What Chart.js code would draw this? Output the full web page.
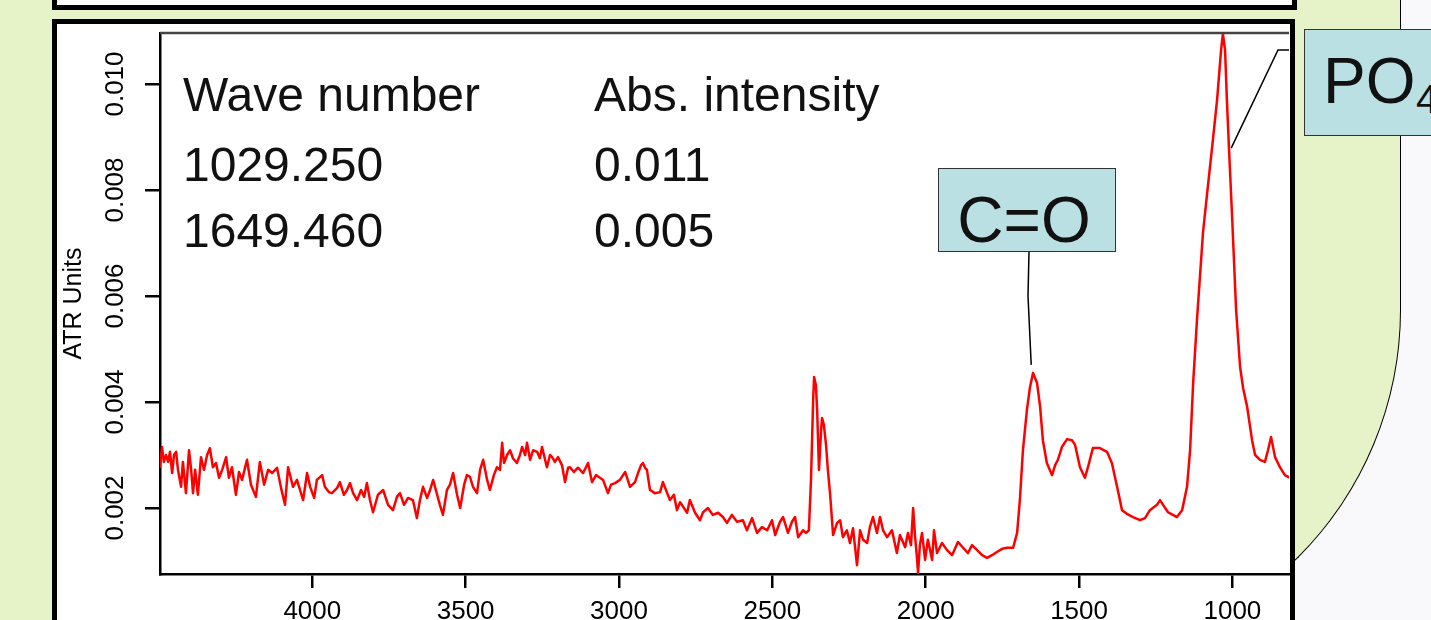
<!DOCTYPE html>
<html>
<head>
<meta charset="utf-8">
<script src="https://cdn.jsdelivr.net/npm/chart.js@4/dist/chart.umd.min.js"></script>
<style>
    body { margin: 0; width: 1431px; height: 620px; overflow: hidden; position: relative; background: #f9f9fb; font-family: "Liberation Sans", Arial, sans-serif; }
    #green { position: absolute; left: 0; top: -10px; width: 1401px; height: 670px; box-sizing: border-box; background: #e6f3c8; border-right: 1.5px solid #000; border-bottom: 1.5px solid #000; border-bottom-right-radius: 350px; }
    #topBox { position: absolute; left: 52px; top: -40px; width: 1245px; height: 50px; box-sizing: border-box; border: 5px solid #000; background: #fff; }
    #chartBox { position: absolute; left: 52px; top: 19px; width: 1243px; height: 640px; box-sizing: border-box; border: 5px solid #000; background: #fff; }
    #spectrum { position: absolute; left: 0; top: 0; }
    .txt { position: absolute; line-height: 1; white-space: nowrap; color: #111; }
    .tag { position: absolute; box-sizing: border-box; background: #bbe0e3; border: 1.5px solid #333; }
</style>
</head>
<body>
<div id="green"></div>
<div id="topBox"></div>
<div id="chartBox"></div>
<canvas id="spectrum" width="1431" height="620"></canvas>

<div class="txt" style="left:183px; top:71px; font-size:48px;">Wave number</div>
<div class="txt" style="left:183px; top:141px; font-size:48px;">1029.250</div>
<div class="txt" style="left:183px; top:207px; font-size:48px;">1649.460</div>
<div class="txt" style="left:594px; top:71px; font-size:48px;">Abs. intensity</div>
<div class="txt" style="left:594px; top:141px; font-size:48px;">0.011</div>
<div class="txt" style="left:594px; top:207px; font-size:48px;">0.005</div>

<div class="tag" style="left:938px; top:168px; width:178px; height:84px;"></div>
<div class="txt" style="left:935px; top:188px; width:178px; text-align:center; font-size:64px;">C=O</div>

<div class="tag" style="left:1304px; top:29px; width:160px; height:107px;"></div>
<div class="txt" style="left:1323px; top:49px; font-size:64px;">PO</div>
<div class="txt" style="left:1416px; top:79px; font-size:40px;">4</div>

<script>
// ATR spectrum (wave number in cm-1, absorbance in ATR units)
const waveNumber = [
    4497, 4490, 4484, 4477, 4470, 4464, 4457, 4451, 4444, 4438,
    4428, 4422, 4412, 4402, 4395, 4389, 4382, 4373, 4363, 4353,
    4343, 4334, 4324, 4314, 4304, 4294, 4281, 4272, 4262, 4249,
    4239, 4229, 4213, 4200, 4184, 4171, 4157, 4144, 4131, 4115,
    4102, 4089, 4079, 4063, 4050, 4040, 4030, 4017, 4007, 3994,
    3985, 3968, 3959, 3946, 3936, 3919, 3910, 3897, 3887, 3877,
    3867, 3854, 3841, 3831, 3822, 3812, 3802, 3786, 3769, 3753,
    3737, 3724, 3714, 3701, 3688, 3672, 3659, 3649, 3639, 3626,
    3616, 3606, 3593, 3584, 3574, 3561, 3551, 3541, 3528, 3518,
    3505, 3496, 3486, 3476, 3463, 3453, 3443, 3430, 3421, 3408,
    3398, 3388, 3381, 3375, 3365, 3355, 3346, 3333, 3323, 3316,
    3306, 3300, 3290, 3280, 3267, 3258, 3251, 3241, 3235, 3225,
    3218, 3209, 3199, 3186, 3176, 3166, 3160, 3147, 3134, 3117,
    3101, 3088, 3075, 3062, 3052, 3036, 3026, 3013, 2997, 2980,
    2964, 2948, 2938, 2928, 2922, 2915, 2909, 2899, 2883, 2866,
    2857, 2843, 2834, 2821, 2811, 2801, 2795, 2778, 2769, 2752,
    2736, 2726, 2710, 2694, 2677, 2661, 2648, 2632, 2615, 2596,
    2583, 2566, 2550, 2534, 2517, 2501, 2491, 2475, 2465, 2449,
    2436, 2426, 2416, 2400, 2390, 2381, 2374, 2367, 2364, 2358,
    2354, 2348, 2341, 2338, 2332, 2325, 2319, 2312, 2302, 2289,
    2279, 2270, 2257, 2247, 2237, 2224, 2214, 2204, 2191, 2182,
    2172, 2159, 2149, 2139, 2126, 2110, 2094, 2084, 2067, 2058,
    2048, 2041, 2035, 2028, 2025, 2019, 2012, 2002, 1993, 1979,
    1973, 1963, 1947, 1931, 1914, 1895, 1878, 1862, 1849, 1833,
    1816, 1800, 1784, 1768, 1751, 1735, 1715, 1702, 1693, 1683,
    1670, 1660, 1650, 1637, 1627, 1618, 1605, 1588, 1578, 1569,
    1556, 1539, 1523, 1513, 1497, 1481, 1471, 1455, 1432, 1409,
    1393, 1376, 1360, 1344, 1324, 1301, 1285, 1269, 1246, 1236,
    1226, 1210, 1194, 1181, 1164, 1148, 1138, 1128, 1115, 1096,
    1083, 1067, 1050, 1037, 1031, 1024, 1018, 1011, 1001, 988,
    975, 965, 952, 936, 926, 910, 894, 884, 874, 861,
    845, 829, 812
];

const atrUnits = [
    0.00276, 0.00315, 0.00287, 0.00300, 0.00287, 0.00306, 0.00266, 0.00300, 0.00306, 0.00272,
    0.00240, 0.00287, 0.00228, 0.00309, 0.00272, 0.00228, 0.00272, 0.00225, 0.00296, 0.00272,
    0.00300, 0.00313, 0.00277, 0.00285, 0.00257, 0.00272, 0.00296, 0.00257, 0.00277, 0.00225,
    0.00268, 0.00253, 0.00291, 0.00244, 0.00221, 0.00287, 0.00244, 0.00272, 0.00266, 0.00276,
    0.00238, 0.00206, 0.00277, 0.00240, 0.00253, 0.00234, 0.00215, 0.00266, 0.00240, 0.00219,
    0.00253, 0.00262, 0.00240, 0.00230, 0.00228, 0.00238, 0.00249, 0.00225, 0.00234, 0.00247,
    0.00228, 0.00215, 0.00234, 0.00221, 0.00247, 0.00215, 0.00192, 0.00225, 0.00234, 0.00206,
    0.00196, 0.00221, 0.00228, 0.00206, 0.00219, 0.00215, 0.00181, 0.00215, 0.00240, 0.00219,
    0.00234, 0.00253, 0.00225, 0.00206, 0.00187, 0.00234, 0.00244, 0.00266, 0.00225, 0.00200,
    0.00244, 0.00262, 0.00259, 0.00240, 0.00228, 0.00272, 0.00291, 0.00253, 0.00234, 0.00262,
    0.00277, 0.00272, 0.00323, 0.00285, 0.00300, 0.00309, 0.00294, 0.00285, 0.00300, 0.00315,
    0.00300, 0.00323, 0.00291, 0.00309, 0.00306, 0.00294, 0.00315, 0.00291, 0.00277, 0.00300,
    0.00296, 0.00287, 0.00296, 0.00281, 0.00249, 0.00276, 0.00277, 0.00268, 0.00276, 0.00266,
    0.00285, 0.00249, 0.00262, 0.00257, 0.00253, 0.00228, 0.00244, 0.00247, 0.00253, 0.00268,
    0.00240, 0.00249, 0.00266, 0.00281, 0.00285, 0.00276, 0.00272, 0.00234, 0.00228, 0.00230,
    0.00249, 0.00228, 0.00215, 0.00225, 0.00196, 0.00211, 0.00206, 0.00191, 0.00215, 0.00191,
    0.00177, 0.00192, 0.00200, 0.00187, 0.00191, 0.00183, 0.00172, 0.00187, 0.00174, 0.00177,
    0.00158, 0.00181, 0.00153, 0.00164, 0.00158, 0.00177, 0.00149, 0.00174, 0.00183, 0.00153,
    0.00174, 0.00183, 0.00145, 0.00158, 0.00153, 0.00158, 0.00253, 0.00404, 0.00447, 0.00432,
    0.00385, 0.00272, 0.00347, 0.00370, 0.00357, 0.00319, 0.00272, 0.00228, 0.00149, 0.00172,
    0.00177, 0.00145, 0.00158, 0.00134, 0.00162, 0.00092, 0.00158, 0.00140, 0.00134, 0.00164,
    0.00183, 0.00153, 0.00183, 0.00158, 0.00145, 0.00158, 0.00115, 0.00149, 0.00126, 0.00153,
    0.00130, 0.00200, 0.00149, 0.00102, 0.00077, 0.00130, 0.00153, 0.00102, 0.00140, 0.00102,
    0.00158, 0.00115, 0.00134, 0.00121, 0.00111, 0.00136, 0.00125, 0.00115, 0.00130, 0.00121,
    0.00111, 0.00106, 0.00111, 0.00117, 0.00123, 0.00125, 0.00125, 0.00153, 0.00215, 0.00309,
    0.00385, 0.00428, 0.00455, 0.00436, 0.00391, 0.00328, 0.00285, 0.00262, 0.00281, 0.00291,
    0.00315, 0.00330, 0.00328, 0.00319, 0.00277, 0.00257, 0.00277, 0.00313, 0.00313, 0.00306,
    0.00285, 0.00240, 0.00196, 0.00189, 0.00183, 0.00177, 0.00181, 0.00196, 0.00206, 0.00215,
    0.00206, 0.00192, 0.00187, 0.00183, 0.00196, 0.00240, 0.00309, 0.00436, 0.00560, 0.00719,
    0.00791, 0.00876, 0.00970, 0.01064, 0.01095, 0.01064, 0.00970, 0.00876, 0.00749, 0.00574,
    0.00466, 0.00426, 0.00391, 0.00328, 0.00300, 0.00291, 0.00287, 0.00309, 0.00334, 0.00296,
    0.00277, 0.00262, 0.00257
];

const xTicks = [4000, 3500, 3000, 2500, 2000, 1500, 1000];
const yTicks = [0.002, 0.004, 0.006, 0.008, 0.010];

// callout tips sit on the spectrum (wave number, ATR units)
const coTip = [1656, 0.00470];
const po4Tip = [1004, 0.00879];

const fontFamily = '"Liberation Sans", Arial, sans-serif';

const points = waveNumber.map((w, i) => ({ x: w, y: atrUnits[i] }));

// top edge of the plot frame plus the two callout lines
const framePlugin = {
    id: 'frame',
    afterDatasetsDraw(chart) {
        const ctx = chart.ctx;
        const area = chart.chartArea;
        const xs = chart.scales.x;
        const ys = chart.scales.y;
        ctx.save();
        ctx.strokeStyle = '#444';
        ctx.lineWidth = 2.5;
        ctx.beginPath();
        ctx.moveTo(area.left, area.top);
        ctx.lineTo(area.right, area.top);
        ctx.stroke();

        ctx.strokeStyle = '#000';
        ctx.lineWidth = 1.5;
        ctx.beginPath();
        ctx.moveTo(1029, 252);
        ctx.lineTo(1028, 296);
        ctx.lineTo(xs.getPixelForValue(coTip[0]), ys.getPixelForValue(coTip[1]));
        ctx.stroke();

        ctx.beginPath();
        ctx.moveTo(xs.getPixelForValue(po4Tip[0]), ys.getPixelForValue(po4Tip[1]));
        ctx.lineTo(1278, 50);
        ctx.lineTo(area.right, 50);
        ctx.stroke();
        ctx.restore();
    }
};

new Chart(document.getElementById('spectrum').getContext('2d'), {
    type: 'line',
    data: {
        datasets: [{
            label: 'ATR Units',
            data: points,
            borderColor: '#ff0000',
            borderWidth: 2.5,
            borderJoinStyle: 'round',
            pointRadius: 0,
            tension: 0,
            fill: false
        }]
    },
    options: {
        responsive: false,
        animation: false,
        layout: { padding: { left: 57, top: 33, right: 142, bottom: 0 } },
        plugins: { legend: { display: false }, tooltip: { enabled: false } },
        scales: {
            x: {
                type: 'linear',
                reverse: true,
                min: 815.5,
                max: 4496.6,
                afterBuildTicks: s => { s.ticks = xTicks.map(v => ({ value: v })); },
                afterFit: s => { s.height = 46; },
                ticks: {
                    color: '#000',
                    font: { family: fontFamily, size: 26 },
                    padding: 8,
                    maxRotation: 0,
                    autoSkip: false,
                    callback: v => String(v)
                },
                grid: { drawOnChartArea: false, drawTicks: true, tickLength: 14, tickColor: '#000', tickWidth: 2.5, lineWidth: 2.5 },
                border: { display: true, color: '#000', width: 2.5 }
            },
            y: {
                min: 0.000755,
                max: 0.010962,
                afterBuildTicks: s => { s.ticks = yTicks.map(v => ({ value: v })); },
                afterFit: s => { s.width = 103; },
                ticks: {
                    color: '#000',
                    font: { family: fontFamily, size: 26 },
                    minRotation: 90,
                    maxRotation: 90,
                    crossAlign: 'center',
                    padding: -3,
                    autoSkip: false,
                    callback: v => v.toFixed(3)
                },
                grid: { drawOnChartArea: false, drawTicks: true, tickLength: 15, tickColor: '#000', tickWidth: 2.5, lineWidth: 2.5 },
                border: { display: true, color: '#000', width: 2.5 },
                title: {
                    display: true,
                    text: 'ATR Units',
                    color: '#000',
                    font: { family: fontFamily, size: 25 },
                    padding: { top: 2, bottom: 0 }
                }
            }
        }
    },
    plugins: [framePlugin]
});
</script>
</body>
</html>
